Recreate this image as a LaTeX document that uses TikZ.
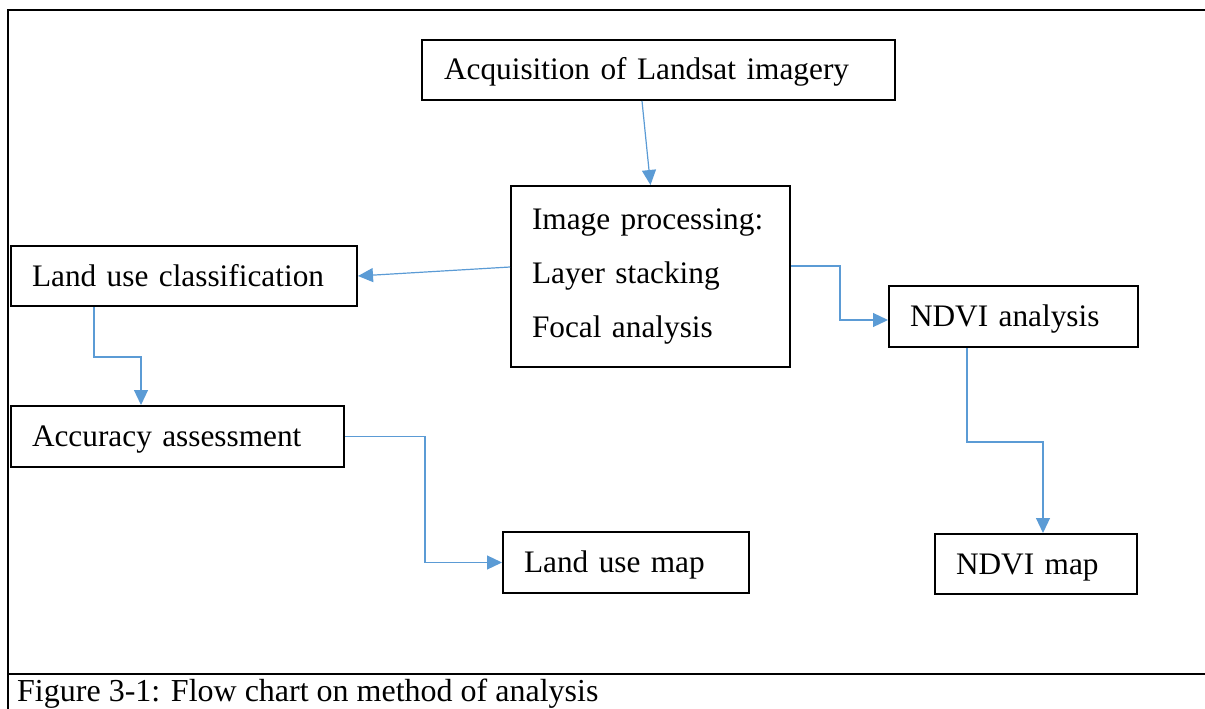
\documentclass[tikz,border=0pt]{standalone}
\usepackage{fontspec}
\setmainfont{Liberation Serif}
\usetikzlibrary{arrows.meta}
\definecolor{flowblue}{HTML}{5B9BD5}
\tikzset{
  box/.style={draw=black, line width=2pt, anchor=north west, align=left,
    inner xsep=21pt, inner ysep=0pt, font=\fontsize{31.3pt}{54pt}\selectfont},
  onebox/.style={box, text height=24pt, text depth=4pt},
  flow/.style={draw=flowblue, line width=1.2pt, -{Triangle[length=15pt,width=14pt]}},
  frameline/.style={draw=black, line width=2.2pt}
}
\begin{document}
\begin{tikzpicture}[x=1pt,y=-1pt]
\useasboundingbox (0,0) rectangle (1205,709);
% frame
\draw[frameline] (1206,10) -- (8,10) -- (8,710);
\draw[frameline] (8,674) -- (1206,674);
% boxes
\node[onebox, minimum width=473pt, minimum height=60pt, text width=429pt] (acq) at (421,39) {Acquisition of Landsat imagery};
\node[box, minimum width=279pt, minimum height=181pt, text width=237pt] (ip) at (510,185) {Image processing:\\Layer stacking\\Focal analysis};
\node[onebox, minimum width=346pt, minimum height=60pt, text width=304pt] (luc) at (10,245) {Land use classification};
\node[onebox, minimum width=249pt, minimum height=61pt, text width=207pt] (ndvi) at (888,285) {NDVI analysis};
\node[onebox, minimum width=333pt, minimum height=61pt, text width=291pt] (aa) at (10,405) {Accuracy assessment};
\node[onebox, minimum width=246pt, minimum height=61pt, text width=204pt] (lum) at (502,531) {Land use map};
\node[onebox, minimum width=202pt, minimum height=60pt, text width=160pt] (nmap) at (934,533) {NDVI map};
% caption
\node[anchor=base west, inner sep=0pt, font=\fontsize{32pt}{38pt}\selectfont] (cap) at (17,701) {Figure 3-1: Flow chart on method of analysis};
% connectors
\draw[flow] ([xshift=-16.5pt]acq.south) -- (ip.north);
\draw[flow] ([yshift=9.5pt]ip.west) -- (luc.east);
\draw[flow] ([yshift=10.5pt]ip.east) -| ([xshift=-48pt,yshift=-3.5pt]ndvi.west) -- ([yshift=-3.5pt]ndvi.west);
\draw[flow] ([xshift=-90pt]luc.south) -- ++(0,50) -| ([xshift=-36.5pt]aa.north);
\draw[flow] (aa.east) -- ++(80,0) |- (lum.west);
\draw[flow] ([xshift=-46.5pt]ndvi.south) -- ++(0,94) -| ([xshift=7pt]nmap.north);
\end{tikzpicture}
\end{document}
